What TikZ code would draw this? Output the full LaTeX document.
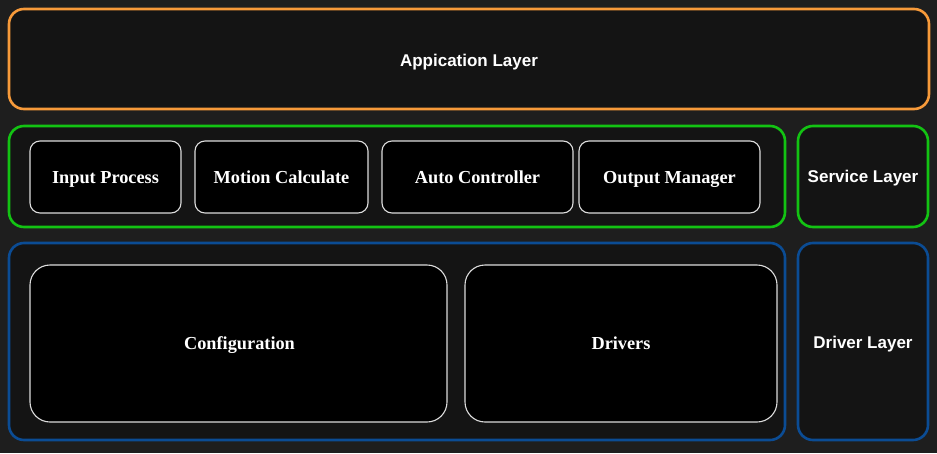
\documentclass[tikz,border=0pt]{standalone}
\usepackage{fontspec}
\setmainfont{Liberation Serif}
\setsansfont{Liberation Sans}
\begin{document}
\begin{tikzpicture}[x=1pt,y=-1pt,
  layer/.style={draw=#1, line width=2.6pt, rounded corners=15pt, fill=panel, inner sep=0pt},
  comp/.style={draw=edge, line width=1.1pt, fill=black, inner sep=0pt, rounded corners=#1},
  comp/.default=10pt,
  laytxt/.style={anchor=base, text=white, inner sep=0pt, font=\sffamily\bfseries\fontsize{17}{20}\selectfont},
  comptxt/.style={anchor=base, text=white, inner sep=0pt, font=\rmfamily\bfseries\fontsize{18.3}{21}\selectfont}]
\definecolor{bg}{HTML}{1E1E1E}
\definecolor{panel}{HTML}{141414}
\definecolor{edge}{HTML}{DDDDDD}
\definecolor{orng}{HTML}{F79A3A}
\definecolor{grn}{HTML}{13C313}
\definecolor{blu}{HTML}{0B4C94}
\fill[bg] (0,0) rectangle (937,453);
\useasboundingbox (0,0) rectangle (937,453);
\node[layer=orng, minimum width=920pt, minimum height=100pt] (app) at (469,59) {};
\node[layer=grn, minimum width=776pt, minimum height=101pt] (svc) at (397,176.5) {};
\node[layer=grn, minimum width=130pt, minimum height=101pt] (svclbl) at (863,176.5) {};
\node[layer=blu, minimum width=776pt, minimum height=197pt] (drv) at (397,341.5) {};
\node[layer=blu, minimum width=130pt, minimum height=197pt] (drvlbl) at (863,341.5) {};
\node[laytxt] (appt) at (469,66) {Appication Layer};
\node[laytxt] (svct) at (863,182) {Service Layer};
\node[laytxt] (drvt) at (863,348) {Driver Layer};
% components
\node[comp, minimum width=151pt, minimum height=72pt] (inp) at (105.5,177) {};
\node[comp, minimum width=173pt, minimum height=72pt] (mot) at (281.5,177) {};
\node[comp, minimum width=191pt, minimum height=72pt] (auto) at (477.5,177) {};
\node[comp, minimum width=181pt, minimum height=72pt] (out) at (669.5,177) {};
\node[comp=20pt, minimum width=417pt, minimum height=157pt] (cfg) at (238.5,343.5) {};
\node[comp=20pt, minimum width=312pt, minimum height=157pt] (drvs) at (621,343.5) {};
\node[comptxt] (inpt) at (105.5,183) {Input Process};
\node[comptxt] (mott) at (281.5,183) {Motion Calculate};
\node[comptxt] (autot) at (477.5,183) {Auto Controller};
\node[comptxt] (outt) at (669.5,183) {Output Manager};
\node[comptxt] (cfgt) at (239.5,349) {Configuration};
\node[comptxt] (drvst) at (621,349) {Drivers};
\end{tikzpicture}
\end{document}
